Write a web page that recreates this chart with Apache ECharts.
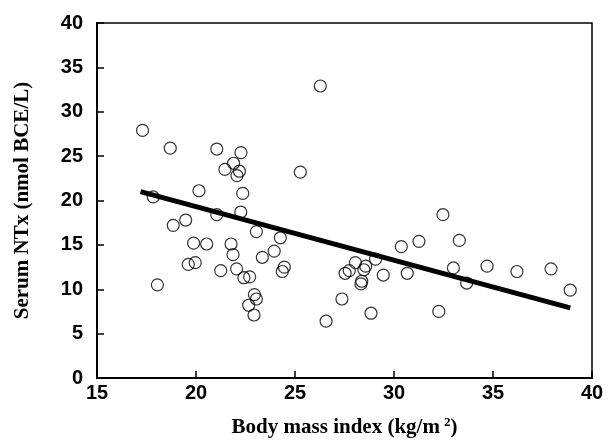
<!DOCTYPE html>
<html>
<head>
<meta charset="utf-8">
<script src="https://cdn.jsdelivr.net/npm/echarts@6/dist/echarts.min.js"></script>
<style>
  html, body { margin: 0; padding: 0; background: #fff; }
  #chart { width: 608px; height: 446px; }
</style>
</head>
<body>
<div id="chart"></div>
<script>
// BMI (kg/m2) and serum NTx (nmol BCE/L)
const bmi = [
    17.3, 18.7, 21.05, 22.27, 21.9, 21.46, 22.19, 22.07, 25.27, 26.28,
    20.15, 22.36, 17.84, 21.05, 22.26, 19.48, 18.85, 23.05, 24.26, 19.88,
    20.54, 21.77, 21.87, 23.35, 23.95, 19.61, 19.96, 21.25, 22.05, 22.42,
    22.71, 24.36, 24.46, 18.05, 22.95, 23.05, 22.66, 22.93, 26.57, 27.37,
    27.53, 27.74, 28.05, 28.57, 28.48, 28.37, 28.33, 29.07, 29.46, 28.84,
    30.37, 31.26, 30.67, 32.47, 33.3, 33.0, 33.67, 32.26, 34.7, 36.21,
    37.93, 38.9
];
const ntx = [
    27.9, 25.9, 25.8, 25.4, 24.2, 23.5, 23.3, 22.8, 23.2, 32.9,
    21.1, 20.8, 20.4, 18.4, 18.7, 17.8, 17.2, 16.5, 15.8, 15.2,
    15.1, 15.1, 13.9, 13.6, 14.3, 12.8, 13.0, 12.1, 12.3, 11.3,
    11.4, 12.0, 12.5, 10.5, 9.4, 8.9, 8.2, 7.1, 6.4, 8.9,
    11.8, 12.1, 13.0, 12.6, 12.2, 10.9, 10.6, 13.4, 11.6, 7.3,
    14.8, 15.4, 11.8, 18.4, 15.5, 12.4, 10.7, 7.5, 12.6, 12.0,
    12.3, 9.9
];

// regression line end points
const fitX = [17.2, 38.9];
const fitY = [21.0, 7.9];

const xTicks = [15, 20, 25, 30, 35, 40];
const yTicks = [0, 5, 10, 15, 20, 25, 30, 35, 40];

document.addEventListener('DOMContentLoaded', function() {

    const myChart = echarts.init(document.getElementById('chart'));

    const labelFont = {
        color: '#000',
        fontFamily: 'Liberation Sans, Arial, sans-serif',
        fontWeight: 'bold',
        fontSize: 20
    };

    const serif = 'Liberation Serif, Times New Roman, serif';

    const option = {
        animation: false,
        grid: {
            left: 97,
            right: 16,
            top: 23,
            bottom: 68,
            show: true,
            borderColor: '#000',
            borderWidth: 1.5,
            backgroundColor: 'transparent'
        },
        xAxis: {
            type: 'value',
            min: xTicks[0],
            max: xTicks[xTicks.length - 1],
            interval: 5,
            name: 'Body mass index (kg/m{sup|2})',
            nameLocation: 'middle',
            nameGap: 38,
            nameTextStyle: {
                color: '#000',
                fontFamily: serif,
                fontWeight: 'bold',
                fontSize: 21,
                rich: {
                    sup: {
                        color: '#000',
                        fontFamily: serif,
                        fontWeight: 'bold',
                        fontSize: 13,
                        padding: [0, 0, 10, 4]
                    }
                }
            },
            axisLine: { lineStyle: { color: '#000', width: 2 } },
            axisTick: { inside: true, length: 7, lineStyle: { color: '#000', width: 1.5 } },
            axisLabel: Object.assign({ margin: 5 }, labelFont),
            splitLine: { show: false }
        },
        yAxis: {
            type: 'value',
            min: yTicks[0],
            max: yTicks[yTicks.length - 1],
            interval: 5,
            name: 'Serum NTx (nmol BCE/L)',
            nameLocation: 'middle',
            nameGap: 64,
            nameTextStyle: {
                color: '#000',
                fontFamily: serif,
                fontWeight: 'bold',
                fontSize: 21
            },
            axisLine: { lineStyle: { color: '#000', width: 2 } },
            axisTick: { inside: true, length: 7, lineStyle: { color: '#000', width: 1.5 } },
            axisLabel: Object.assign({ margin: 14 }, labelFont),
            splitLine: { show: false }
        },
        series: [
            {
                type: 'scatter',
                symbol: 'circle',
                symbolSize: 12,
                data: bmi.map((x, i) => [x, ntx[i]]),
                itemStyle: {
                    color: 'rgba(0,0,0,0)',
                    borderColor: '#000',
                    borderWidth: 1.2
                }
            },
            {
                type: 'line',
                symbol: 'none',
                data: fitX.map((x, i) => [x, fitY[i]]),
                lineStyle: { color: '#000', width: 5 },
                z: 3
            }
        ]
    };

    myChart.setOption(option);
});
</script>
</body>
</html>
